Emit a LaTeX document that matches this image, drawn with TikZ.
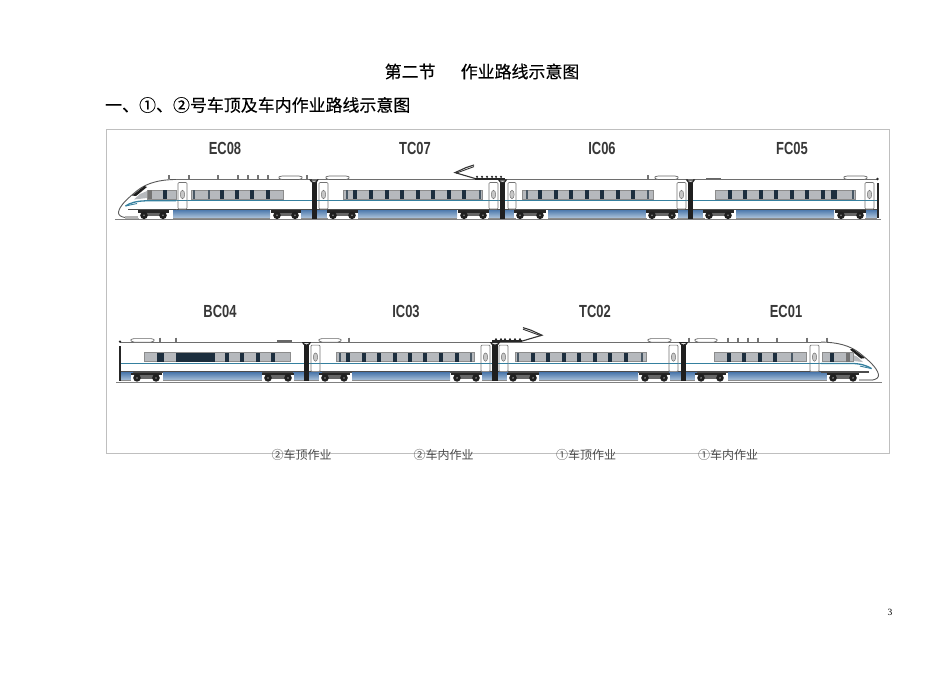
\documentclass[tikz,border=0pt]{standalone}
\usepackage{fontspec}
\setmainfont{Liberation Serif}
\newfontfamily\cjk{Noto Sans CJK SC}
\newfontfamily\cjkb[FakeBold=0.25]{Noto Sans CJK SC}
\newfontfamily\lab{Liberation Sans}
\definecolor{rim}{HTML}{6E6E6E}
\definecolor{stripe}{HTML}{35809F}
\definecolor{glass}{HTML}{B6B9BD}
\definecolor{bar}{HTML}{1C2E3E}
\definecolor{skirtA}{HTML}{4F7BAE}
\definecolor{skirtB}{HTML}{A9C0D8}
\tikzset{
  carlabel/.style={font=\lab\bfseries\fontsize{17.5}{18}\selectfont,text=black!78,inner sep=0pt},
  titletext/.style={font=\cjkb\fontsize{16.95}{18}\selectfont,text=black,inner sep=0pt,anchor=west},
  worklabel/.style={font=\cjk\fontsize{12}{12}\selectfont,text=black!70,inner sep=0pt},
  roofline/.style={draw=rim,line width=1.2pt},
}
% all parts drawn in row-one coordinates
\newcommand{\carbody}[2]{%
  \fill[white] (#1,179.5) rectangle (#2,209.5);
  \draw[roofline] (#1,179.5) -- (#2,179.5);
  \draw[black!70,line width=1.3pt] (#1,209.3) -- (#2,209.3);
  \draw[stripe,line width=1.3pt] (#1,200.8) -- (#2,200.8);}
\newcommand{\skirtpart}[2]{%
  \shade[top color=skirtA,bottom color=skirtB] (#1,210) rectangle (#2,217.5);
  \draw[black!45,line width=.6pt] (#1,218) -- (#2,218);}
\newcommand{\winband}[4]{% x0,x1,wide bars,thin bars
  \fill[glass] (#1,190) rectangle (#2,199);
  \draw[black!45,line width=.4pt] (#1,190) rectangle (#2,199);
  \foreach \b in {#3} {\fill[bar] (\b-2.1,190) rectangle (\b+2.1,199);}
  \foreach \b in {#4} {\fill[bar!80] (\b-.6,190) rectangle (\b+.6,199);}}
\newcommand{\doorpart}[2]{%
  \draw[black!55,fill=white,line width=.6pt,rounded corners=1pt] (#1,182.5) rectangle (#2,209);
  \draw[stripe,line width=1.3pt] (#1,200.8) -- (#2,200.8);
  \draw[black!55,fill=black!22,line width=.5pt] ({(#1+#2)/2},194.5) ellipse (2.2 and 4.2);}
\newcommand{\bogie}[2]{%
  \fill[white] (#1-6,210) rectangle (#2+6,218);
  \fill[black!85] (#1-6,210.2) rectangle (#2+6,212.6);
  \fill[black!60] (#1,212.6) rectangle (#2,216);
  \foreach \w in {#1,#2} {\fill[black!88] (\w,215.3) circle (3.8); \fill[black!45] (\w,215.3) circle (.9);}}
\newcommand{\gangway}[2]{%
  \fill[black!88] (#1,181) rectangle (#2,218.5);
  \draw[black!85,line width=1.1pt,fill=white] (#1-1.2,180) arc (180:0:{(#2-#1)/2+1.2} and 2.4) -- cycle;}
\newcommand{\padpart}[2]{%
  \draw[black!60,fill=white,line width=.7pt,rounded corners=1.2pt] (#1,177.5) -- (#1+3,176) -- (#2-3,176) -- (#2,177.5) -- (#2-3,179.5) -- (#1+3,179.5) -- cycle;}
\newcommand{\thinpad}[2]{\fill[black!60] (#1,177.8) rectangle (#2,179.2);}
\newcommand{\stubs}[1]{\foreach \s in {#1} {\draw[black!55,line width=1.1pt] (\s,175) -- (\s,179);}}
\newcommand{\pantoleft}[1]{% #1 = foot x, arm leaning right
  \draw[black!80,line width=1.1pt] (#1+20,178.5) -- (#1,172.6) -- (#1+11,167.6) -- (#1+19,165);
  \draw[black!80,line width=.9pt] (#1+1,173.2) -- (#1+13,168.8) -- (#1+19,166.6);
  \fill[black!85] (#1+20,177.6) rectangle (#1+50,179.5);
  \foreach \p in {22,27,32,37,41,46} {\fill[black!85] (#1+\p,176.8) circle (1.2);}}
\newcommand{\nosecar}{%
  \fill[white] (176,179.5) .. controls (160,179.5) and (147,183) .. (138,190)
     .. controls (128,198) and (120,205) .. (118.5,212)
     .. controls (118,215) and (121,217) .. (125,217.5) -- (140,217.5) -- (140,210) -- (176,210) -- cycle;
  \draw[black!65,line width=.9pt] (176,179.5) .. controls (160,179.5) and (147,183) .. (138,190)
     .. controls (128,198) and (120,205) .. (118.5,212)
     .. controls (118,215) and (121,217) .. (125,217.5);
  \fill[black!88] (132,195.5) -- (144.5,186) -- (147,187) -- (136,196) -- cycle;
  \fill[glass] (134,199.5) -- (140,194) -- (147,191) -- (147,198) -- cycle;
  \draw[stripe,line width=1.3pt] (176,200.8) -- (146,200.8) .. controls (136,201) and (130,203) .. (125.5,206);
  \draw[stripe,line width=.9pt] (125.5,206) -- (137,203.5);
  \draw[black!70,line width=1.3pt] (128,209.3) -- (176,209.3);
  \fill[black!30] (125,216) rectangle (139,218.5);}
\begin{document}
\begin{tikzpicture}[x=1pt,y=-1pt]
\useasboundingbox (0,0) rectangle (950,672);
\fill[white] (0,0) rectangle (950,672);
\node[titletext] (t1) at (384.5,71.5) {第二节};
\node[titletext] (t2) at (460.5,71.5) {作业路线示意图};
\node[titletext] (t3) at (105,105) {一、①、②号车顶及车内作业路线示意图};
\draw[black!25,line width=.8pt] (106.5,129.5) rectangle (889,453.5);
% row one
\draw[black!50,line width=.9pt] (115,219.5) -- (881,219.5);
\node[carlabel] (ec08) at (225,148.5) {\scalebox{.74}[1]{EC08}};
\node[carlabel] (tc07) at (415,148.5) {\scalebox{.74}[1]{TC07}};
\node[carlabel] (ic06) at (602,148.5) {\scalebox{.74}[1]{IC06}};
\node[carlabel] (fc05) at (792,148.5) {\scalebox{.74}[1]{FC05}};
% EC08
\carbody{176}{312}
\nosecar
\skirtpart{173}{270}\skirtpart{301}{312}
\winband{147}{176}{165}{}
\fill[black!55] (148,190) rectangle (152,199);
\winband{191}{283}{222,237,252,268}{194,209}
\doorpart{178}{187}
\bogie{144}{163}\bogie{277}{295}
\padpart{278}{303}
\stubs{169,189,218,238,248,258,268,307}
% TC07
\carbody{317}{500}
\skirtpart{317}{328}\skirtpart{358}{457}\skirtpart{488}{500}
\winband{343}{482}{355,371,387,402,418,433,449,464}{347,480}
\doorpart{319}{328}\doorpart{489}{498}
\bogie{333}{352}\bogie{464}{483}
\padpart{325}{350}
\pantoleft{455}
% IC06
\carbody{505}{688}
\skirtpart{505}{516}\skirtpart{548}{647}\skirtpart{677}{688}
\winband{522}{653}{540,556,571,587,602,618,633}{527,648}
\doorpart{508}{516}\doorpart{677}{686}
\bogie{520}{540}\bogie{652}{672}
\padpart{654}{679}
\stubs{648}
% FC05
\carbody{693}{877}
\skirtpart{693}{705}\skirtpart{736}{834}\skirtpart{865}{877}
\winband{715}{855}{730,745,761,776,792,807,823}{853}
\fill[bar] (831,190) rectangle (837,199);
\doorpart{865}{874}
\bogie{709}{728}\bogie{841}{860}
\padpart{843}{868}\thinpad{706}{721}
\fill[black!85] (877,183) rectangle (879,218);
\fill[black!85] (877.5,179) circle (1.3);
% couplers
\gangway{311.5}{316.5}\gangway{500}{505}\gangway{688}{693}
% row two
\begin{scope}[shift={(0,162.6)}]
\draw[black!50,line width=.9pt] (116,219.5) -- (882,219.5);
% BC04
\carbody{120}{304}
\skirtpart{121}{133}\skirtpart{163}{262}\skirtpart{293}{304}
\winband{144}{290}{227,242,258,273}{}
\fill[bar] (157,190) rectangle (164,199);
\fill[bar] (176,190) rectangle (215,199);
\bogie{137}{156}\bogie{268}{288}
\padpart{130}{155}\thinpad{277}{292}
\stubs{160,176}
\fill[black!85] (119,183) rectangle (121,218);
\fill[black!85] (120,179) circle (1.3);
% IC03
\carbody{309}{492}
\skirtpart{309}{322}\skirtpart{352}{450}\skirtpart{482}{492}
\winband{336}{474}{348,364,379,395,410,425,441,457}{340,471}
\doorpart{311}{320}\doorpart{481}{490}
\bogie{325}{344}\bogie{457}{476}
\padpart{318}{342}
\stubs{349}
% TC02
\carbody{498}{681}
\skirtpart{498}{508}\skirtpart{539}{638}\skirtpart{669}{681}
\winband{515}{646}{533,548,564,579,595,610,626}{518,642}
\doorpart{499}{508}\doorpart{669}{678}
\bogie{513}{533}\bogie{645}{664}
\padpart{647}{672}
\begin{scope}[shift={(1045,0)},xscale=-1]\pantoleft{503}\end{scope}
% EC01
\carbody{686}{822}
\skirtpart{686}{697}\skirtpart{728}{827}
\begin{scope}[shift={(997,0)},xscale=-1]
\nosecar
\end{scope}
\winband{822}{853}{832}{}
\fill[black!55] (846,190) rectangle (850,199);
\winband{714}{806}{729,744,760,775}{792}
\doorpart{810}{819}
\bogie{701}{720}\bogie{833}{853}
\padpart{694}{718}
\stubs{689,728,738,748,758,777,807,827}
\gangway{304}{309}\gangway{492}{498}\gangway{681}{686}
\end{scope}
\node[carlabel] (bc04) at (220,311.5) {\scalebox{.74}[1]{BC04}};
\node[carlabel] (ic03) at (406,311.5) {\scalebox{.74}[1]{IC03}};
\node[carlabel] (tc02) at (595,311.5) {\scalebox{.74}[1]{TC02}};
\node[carlabel] (ec01) at (786,311.5) {\scalebox{.74}[1]{EC01}};
\node[worklabel] (w1) at (301.5,454.5) {②车顶作业};
\node[worklabel] (w2) at (443.5,454.5) {②车内作业};
\node[worklabel] (w3) at (586,454.5) {①车顶作业};
\node[worklabel] (w4) at (728,454.5) {①车内作业};
\node[font=\fontsize{9.5}{10}\selectfont,inner sep=0pt] (pg) at (890,612) {3};
\end{tikzpicture}
\end{document}
